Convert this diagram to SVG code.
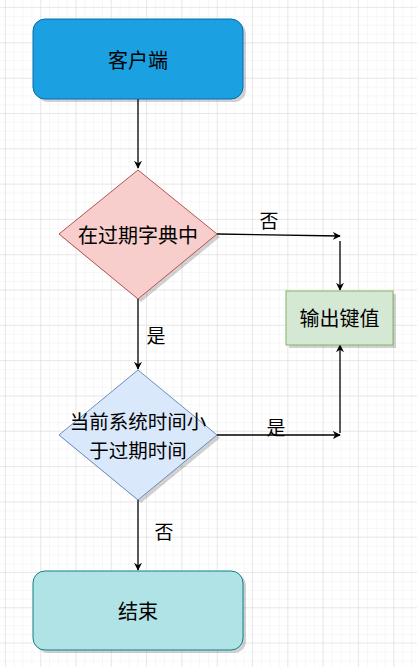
<svg xmlns="http://www.w3.org/2000/svg" width="417" height="667" viewBox="0 0 417 667">
<defs>
<pattern id="minor" width="8.83" height="8.83" patternUnits="userSpaceOnUse" x="4.9" y="7.1">
<path d="M0 0H8.83M0 0V8.83" fill="none" stroke="#efefef" stroke-width="1"/>
</pattern>
<pattern id="major" width="35.3" height="35.3" patternUnits="userSpaceOnUse" x="4.9" y="7.1">
<path d="M0 0H35.3M0 0V35.3" fill="none" stroke="#d9d9d9" stroke-width="1"/>
</pattern>
<marker id="arr" viewBox="0 0 10 10" refX="9" refY="5" markerWidth="8" markerHeight="8" markerUnits="userSpaceOnUse" orient="auto">
<path d="M0 0L10 5L0 10L3 5Z" fill="#000"/>
</marker>
</defs>
<style>
.t{font-family:"Noto Sans CJK SC","Liberation Sans",sans-serif;font-size:20px;fill:#000;text-anchor:middle;dominant-baseline:central}
.t2{font-size:19.5px}
.lbl{font-family:"Noto Sans CJK SC","Liberation Sans",sans-serif;font-size:19px;fill:#000;text-anchor:middle;dominant-baseline:central}
.c{fill:none;stroke:#000;stroke-width:1.3}
.sh{fill:#000;opacity:0.18}
</style>
<rect width="417" height="667" fill="#fff"/>
<rect width="417" height="667" fill="url(#minor)"/>
<rect width="417" height="667" fill="url(#major)"/>
<g id="connectors">
<path class="c" d="M138 99L138 168" marker-end="url(#arr)"/>
<path class="c" d="M217 234L340 236" marker-end="url(#arr)"/>
<path class="c" d="M340 241L340 290" marker-end="url(#arr)"/>
<path class="c" d="M138 299L138 369" marker-end="url(#arr)"/>
<path class="c" d="M217 435L340 435" marker-end="url(#arr)"/>
<path class="c" d="M340 433L340 345" marker-end="url(#arr)"/>
<path class="c" d="M138 500L138 570" marker-end="url(#arr)"/>
<text class="lbl" x="269" y="219">否</text>
<text class="lbl" x="156" y="334">是</text>
<text class="lbl" x="276" y="426">是</text>
<text class="lbl" x="164" y="530">否</text>
</g>
<g id="client">
<rect class="sh" x="36" y="22" width="210" height="80" rx="12"/>
<rect x="33" y="19" width="210" height="80" rx="12" fill="#1ba1e2" stroke="#006eaf" stroke-width="1"/>
<text class="t" x="138" y="59">客户端</text>
</g>
<g id="inDict">
<path class="sh" d="M141 173L220 237L141 302L62 237Z"/>
<path d="M138 170L217 234L138 299L59 234Z" fill="#f8cecc" stroke="#b85450" stroke-width="1"/>
<text class="t" x="138" y="234">在过期字典中</text>
</g>
<g id="output">
<rect class="sh" x="289" y="294" width="107" height="54"/>
<rect x="286" y="291" width="107" height="54" fill="#d5e8d4" stroke="#82b366" stroke-width="1"/>
<text class="t" x="339.5" y="317">输出键值</text>
</g>
<g id="timeCheck">
<path class="sh" d="M141 373L220 438L141 503L62 438Z"/>
<path d="M138 370L217 435L138 500L59 435Z" fill="#dae8fc" stroke="#6c8ebf" stroke-width="1"/>
<text class="t t2" x="138" y="420">当前系统时间小</text>
<text class="t t2" x="138" y="449">于过期时间</text>
</g>
<g id="end">
<rect class="sh" x="36" y="574" width="210" height="79" rx="12"/>
<rect x="33" y="571" width="210" height="79" rx="12" fill="#b0e3e6" stroke="#0e8088" stroke-width="1"/>
<text class="t" x="138" y="610">结束</text>
</g>
</svg>
